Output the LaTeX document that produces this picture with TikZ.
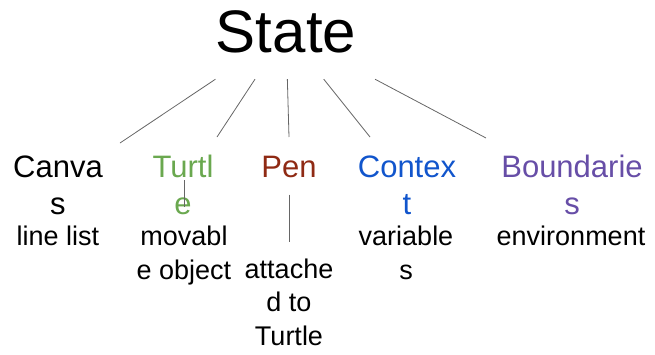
\documentclass[tikz,border=0pt]{standalone}
\usepackage{fontspec}
\setmainfont{Liberation Sans}
\usepackage{tikz}
\usetikzlibrary{positioning}

\definecolor{turtlegreen}{HTML}{6AA84F}
\definecolor{penred}{HTML}{8F2A14}
\definecolor{ctxblue}{HTML}{1155CC}
\definecolor{boundpurple}{HTML}{674EA7}
\definecolor{linkgray}{HTML}{666666}

\tikzset{
  title/.style={font=\fontsize{31}{37}\selectfont, align=center, anchor=base, inner sep=0pt},
  desc/.style={font=\fontsize{27}{33.5}\selectfont, align=center, anchor=base, inner sep=0pt},
  link/.style={draw=linkgray, line width=0.8pt}
}

\begin{document}
\begin{tikzpicture}[x=1pt,y=-1pt]
  \useasboundingbox (0,0) rectangle (655,354);

  % root
  \node[font=\fontsize{60}{70}\selectfont, inner sep=0pt,
        minimum width=190pt, minimum height=94pt] (state) at (286,32) {State};

  % children (base = last line)
  \node[title] (canvas) at (58,214) {Canva\\s};
  \node[title,turtlegreen] (turtle) at (183,214) {Turtl\\e};
  \node[title,penred] (pen) at (289,177) {Pen};
  \node[title,ctxblue] (context) at (407,214) {Contex\\t};
  \node[title,boundpurple] (bounds) at (572,214) {Boundarie\\s};

  % what each one holds
  \node[desc] (canvasdesc) at (58,245) {line list};
  \node[desc] (turtledesc) at (184,279) {movabl\\e object};
  \node[desc] (pendesc) at (289,345) {attache\\d to\\Turtle};
  \node[desc] (contextdesc) at (406,279) {variable\\s};
  \node[desc] (boundsdesc) at (571,245) {environment};

  % line ends just above the children
  \coordinate (canvas-in) at (120,143);
  \coordinate (turtle-in) at (217,137);
  \coordinate (pen-in) at (289,137);
  \coordinate (context-in) at (370,137);
  \coordinate (bounds-in) at (486,138);

  \foreach \c in {canvas,turtle,pen,context,bounds}
    \draw[link] (state) -- (\c-in);

  \draw[link] (turtle.base) ++(1,-34) -- ++(0,27);
  \draw[link, shorten <=17pt, shorten >=16pt] (pen) -- (pendesc);
\end{tikzpicture}
\end{document}
